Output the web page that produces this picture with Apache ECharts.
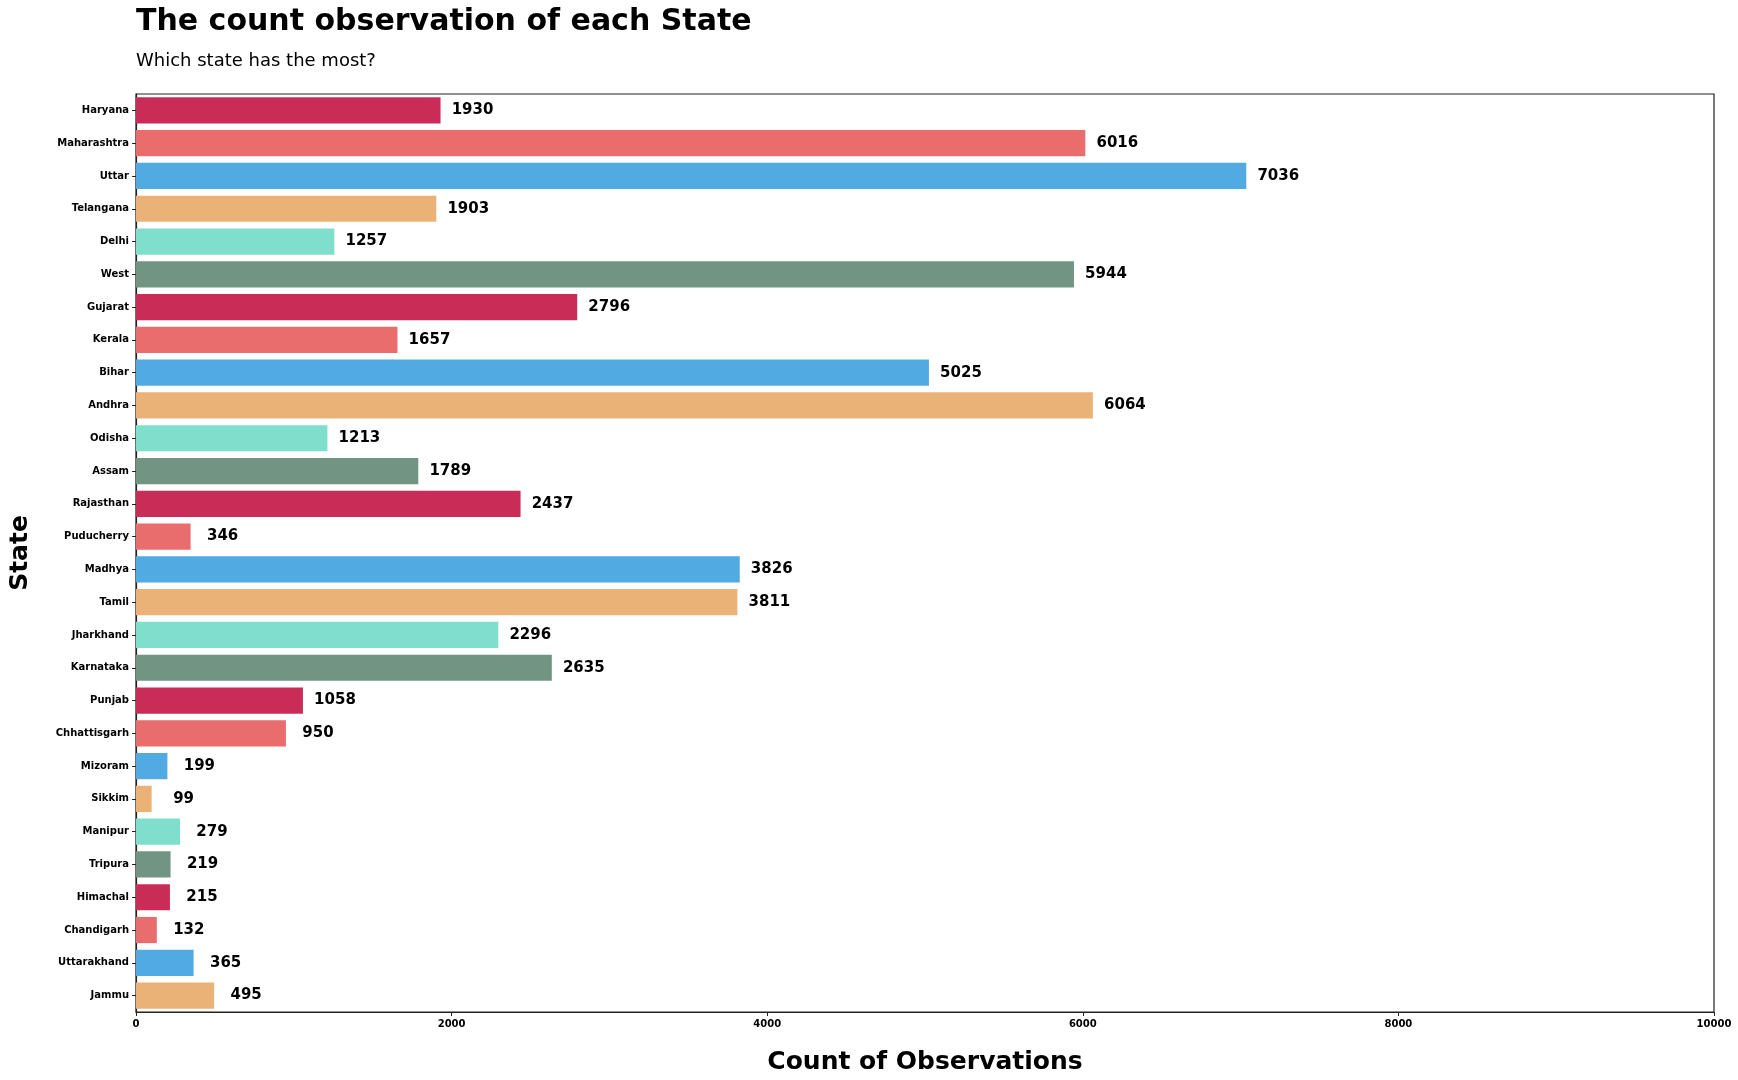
<!DOCTYPE html>
<html>
<head>
<meta charset="utf-8">
<script src="https://cdn.jsdelivr.net/npm/echarts@6/dist/echarts.min.js"></script>
<style>html,body{margin:0;padding:0;background:#fff;}#chart{width:1738px;height:1080px;}</style>
</head>
<body>
<div id="chart"></div>
<script>
const states = ["Haryana","Maharashtra","Uttar","Telangana","Delhi","West","Gujarat","Kerala","Bihar","Andhra","Odisha","Assam","Rajasthan","Puducherry","Madhya","Tamil","Jharkhand","Karnataka","Punjab","Chhattisgarh","Mizoram","Sikkim","Manipur","Tripura","Himachal","Chandigarh","Uttarakhand","Jammu"];
const counts = [1930,6016,7036,1903,1257,5944,2796,1657,5025,6064,1213,1789,2437,346,3826,3811,2296,2635,1058,950,199,99,279,219,215,132,365,495];
const palette = ["#C92D57","#E96D6D","#52AAE3","#EBB277","#7FDECC","#729483"];
const xTicks = [0,2000,4000,6000,8000,10000];

const FONT = "DejaVu Sans";
const chart = echarts.init(document.getElementById('chart'), null, {renderer:'canvas'});
chart.setOption({
  backgroundColor:'#fff',
  animation:false,
  textStyle:{fontFamily:FONT},
  title:{
    left:131, top:2,
    text:'The count observation of each State',
    subtext:'Which state has the most?',
    itemGap:15,
    textStyle:{fontFamily:FONT,fontSize:30,fontWeight:'bold',color:'#000'},
    subtextStyle:{fontFamily:FONT,fontSize:18,color:'#000'}
  },
  grid:{left:132,right:24,top:94,bottom:68,containLabel:false,show:true,borderColor:'#222',borderWidth:1.2},
  xAxis:{
    type:'value', min:xTicks[0], max:xTicks[xTicks.length-1], interval:2000,
    name:'Count of Observations', nameLocation:'middle', nameGap:38,
    nameTextStyle:{fontFamily:FONT,fontSize:25,fontWeight:'bold',color:'#000'},
    axisLine:{show:true,lineStyle:{color:'#222',width:1.2}},
    axisTick:{show:true,length:4,lineStyle:{color:'#222'}},
    axisLabel:{fontFamily:FONT,fontSize:10,fontWeight:'bold',color:'#000',margin:7,formatter:v=>String(v)},
    splitLine:{show:false}
  },
  yAxis:{
    type:'category', data:states, inverse:true,
    name:'State', nameLocation:'middle', nameGap:103, nameRotate:90,
    nameTextStyle:{fontFamily:FONT,fontSize:25,fontWeight:'bold',color:'#000'},
    axisLine:{show:true,lineStyle:{color:'#222',width:1.2}},
    axisTick:{show:true,alignWithLabel:true,length:4,lineStyle:{color:'#222'}},
    axisLabel:{fontFamily:FONT,fontSize:10,fontWeight:'bold',color:'#000',margin:7},
    splitLine:{show:false}
  },
  series:[{
    type:'bar',
    data:counts,
    barCategoryGap:'20%',
    itemStyle:{color:p=>palette[p.dataIndex%palette.length]},
    label:{show:true,position:'right',distance:32,align:'center',
      fontFamily:FONT,fontSize:15,fontWeight:'bold',color:'#000'}
  }]
});
</script>
</body>
</html>
